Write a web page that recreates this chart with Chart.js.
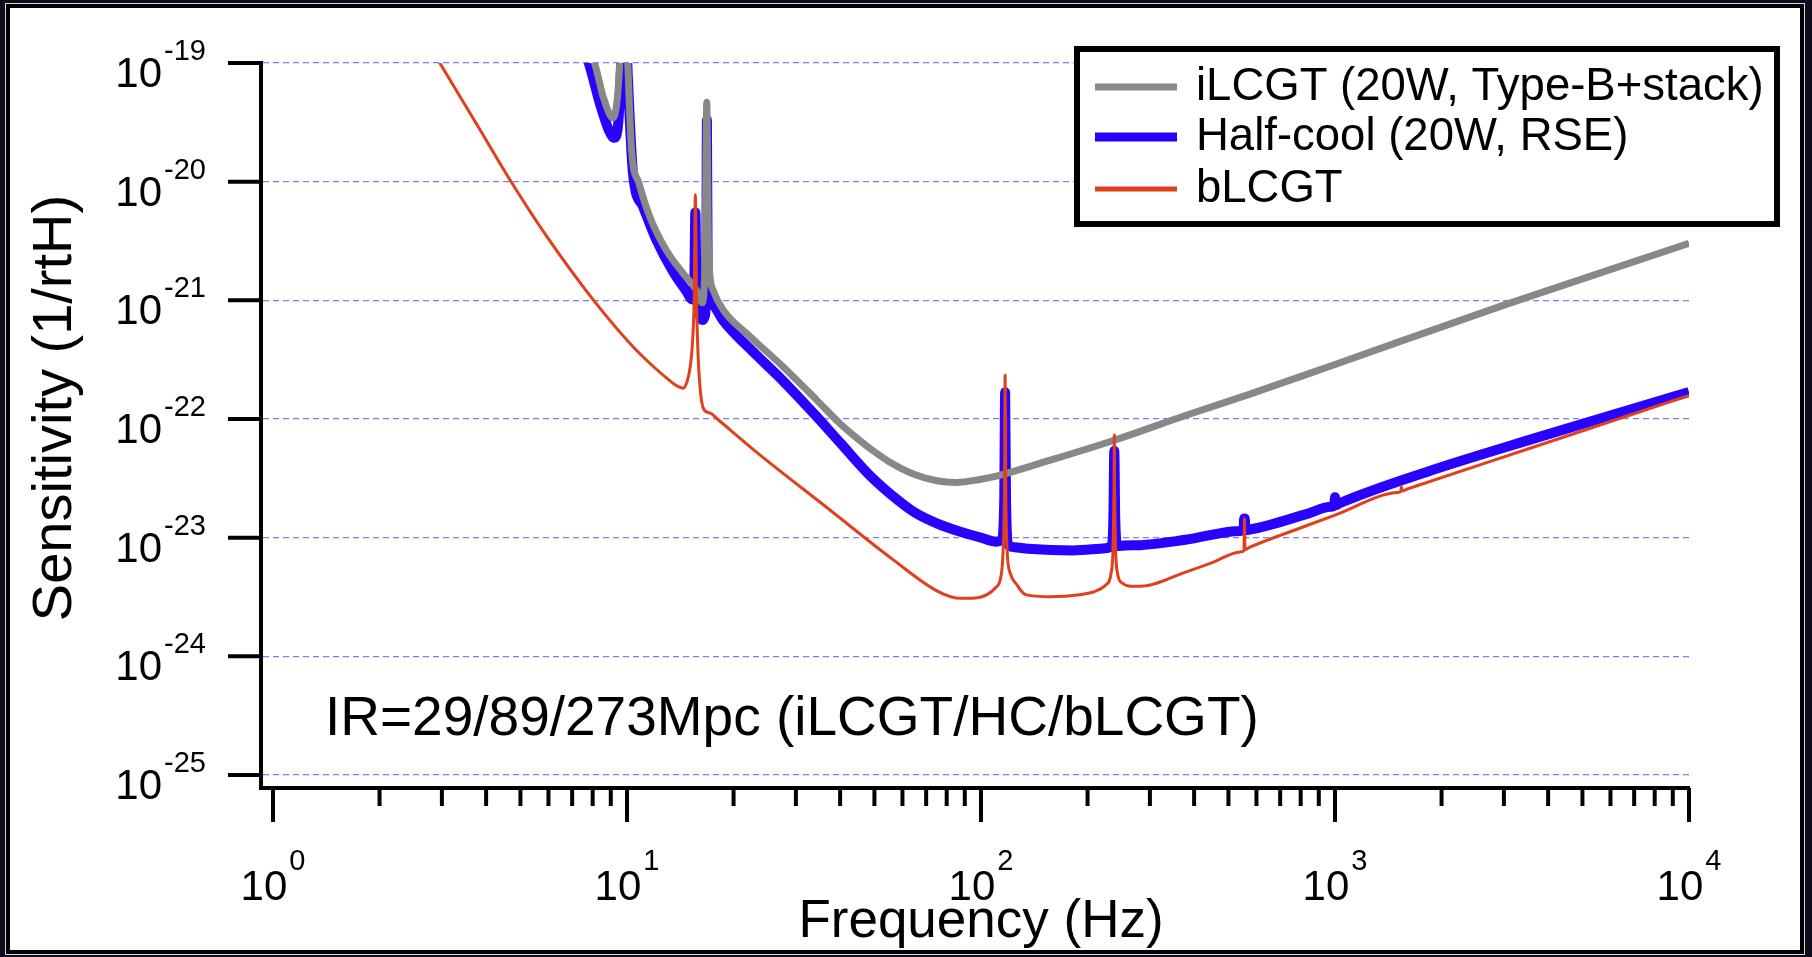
<!DOCTYPE html>
<html lang="en">
<head>
<meta charset="UTF-8">
<title>LCGT sensitivity</title>
<script src="https://cdn.jsdelivr.net/npm/chart.js"></script>
<style>
    html, body {
        margin: 0;
        padding: 0;
        background: #0d0c1c;
    }
    #frame {
        position: absolute;
        left: 6px;
        top: 4px;
        width: 1798px;
        height: 950px;
        box-sizing: border-box;
        border: 4px solid #000;
        background: #fff;
        box-shadow: 0 0 0 1px #d6d6de;
    }
    #plot {
        position: absolute;
        left: 0;
        top: 0;
    }
</style>
</head>
<body>
<div id="frame"></div>
<canvas id="plot" width="1812" height="957"></canvas>
<script>
// iLCGT (20W, Type-B+stack)
const freqILCGT = [7.0, 8.1, 8.6, 9.13, 9.35, 9.5, 9.82, 10.05, 10.3, 10.8, 11.6, 12.9, 14.4, 15.7, 16.3, 16.6, 16.8, 17.0, 17.5,
    18.7, 22.3, 27.6, 34.3, 40, 45, 48.7, 55, 65.2, 75, 85, 100, 110.6, 157, 244, 378, 575, 1000, 3000, 10000];
const sensILCGT = [3.16e-19, 1.0e-19, 5.0e-20, 3.44e-20, 4.47e-20, 7.94e-20, 5.0e-19, 1.0e-19, 1.85e-20, 9.8e-21, 5.07e-21, 2.66e-21, 1.69e-21, 1.22e-21, 9.55e-22, 2.0e-21, 4.68e-20, 2.51e-21, 1.22e-21,
    8.3e-22, 4.94e-22, 2.76e-22, 1.45e-22, 9.12e-23, 6.76e-23, 5.62e-23, 4.37e-23, 3.39e-23, 3.02e-23, 2.92e-23, 3.11e-23, 3.30e-23, 4.50e-23, 6.79e-23, 1.07e-22, 1.62e-22, 2.88e-22, 9.12e-22, 3.02e-21];

// Half-cool (20W, RSE)
const freqHalfCool = [6.5, 7.8, 8.4, 8.9, 9.2, 9.45, 9.6, 9.82, 10.05, 10.4, 11.1, 12.1, 13.5, 14.7, 15.3, 15.5, 15.6, 15.7, 16.0, 16.4,
    16.6, 16.75, 16.82, 16.9, 17.1, 17.5, 18.7, 22.3, 27.6, 34.3, 40, 48.7, 58, 65.2, 75, 87.5, 100, 110.6, 114.5, 116.3,
    117, 117.7, 119.5, 124, 135.8, 182, 225, 234, 236.5, 238, 239.5, 243, 255, 282, 378, 540, 552, 553.5, 556.5, 558,
    575, 830, 970, 995, 1000, 1005, 1030, 1841, 3698, 10000];
const sensHalfCool = [3.98e-19, 1.0e-19, 4.47e-20, 2.69e-20, 2.34e-20, 3.16e-20, 7.94e-20, 5.0e-19, 7.94e-20, 1.17e-20, 6.17e-21, 3.24e-21, 1.74e-21, 1.20e-21, 1.02e-21, 1.58e-21, 5.5e-21, 1.58e-21, 7.94e-22, 6.84e-22,
    7.41e-22, 1.58e-21, 3.31e-20, 1.58e-21, 1.0e-21, 9.33e-22, 6.76e-22, 3.89e-22, 2.09e-22, 1.05e-22, 6.31e-23, 3.31e-23, 2.09e-23, 1.62e-23, 1.32e-23, 1.12e-23, 1.0e-23, 9.25e-24, 9.55e-24, 2.0e-23,
    1.68e-22, 2.0e-23, 8.71e-24, 8.32e-24, 8.07e-24, 7.80e-24, 8.13e-24, 8.71e-24, 1.41e-23, 5.37e-23, 1.41e-23, 8.51e-24, 8.61e-24, 8.65e-24, 9.59e-24, 1.14e-23, 1.15e-23, 1.45e-23, 1.45e-23, 1.16e-23,
    1.17e-23, 1.58e-23, 1.82e-23, 1.86e-23, 2.19e-23, 1.88e-23, 1.95e-23, 3.63e-23, 6.93e-23, 1.69e-22];

// bLCGT
const freqBLCGT = [2.5, 2.96, 3.8, 4.64, 5.96, 8.03, 10.4, 12, 13.0, 13.8, 14.4, 14.8, 15.1, 15.35, 15.5, 15.6, 15.7, 15.85, 16.1, 16.5,
    17.2, 18, 23.4, 36.3, 56.3, 75.5, 87.5, 95, 104, 110, 113.8, 115.5, 116.5, 117, 117.5, 118.5, 121, 126, 133.7, 157,
    190, 210, 225, 233, 236.5, 237.5, 238, 238.5, 239.5, 243, 250, 265, 282, 378, 450, 540, 553, 555, 557, 575,
    830, 1000, 1500, 1535, 1540, 1545, 1600, 3698, 10000];
const sensBLCGT = [2.34e-19, 1.0e-19, 2.90e-20, 1.07e-20, 3.39e-21, 1.01e-21, 4.07e-22, 2.69e-22, 2.19e-22, 1.91e-22, 1.82e-22, 2.09e-22, 2.82e-22, 5.01e-22, 1.26e-21, 7.76e-21, 1.26e-21, 3.98e-22, 1.78e-22, 1.20e-22,
    1.12e-22, 1.0e-22, 5.16e-23, 1.84e-23, 6.56e-24, 3.53e-24, 3.08e-24, 3.09e-24, 3.31e-24, 3.80e-24, 4.68e-24, 7.94e-24, 2.51e-23, 2.34e-22, 2.51e-23, 7.94e-24, 5.01e-24, 4.05e-24, 3.31e-24, 3.18e-24,
    3.31e-24, 3.53e-24, 3.98e-24, 5.01e-24, 1.0e-23, 2.51e-23, 7.33e-23, 2.51e-23, 1.0e-23, 5.01e-24, 4.17e-24, 3.89e-24, 3.89e-24, 5.13e-24, 6.17e-24, 7.59e-24, 7.76e-24, 1.45e-23, 7.94e-24, 8.32e-24,
    1.26e-23, 1.55e-23, 2.40e-23, 2.45e-23, 2.69e-23, 2.48e-23, 2.57e-23, 5.89e-23, 1.58e-22];

// axes
const xDecades = [1, 10, 100, 1000, 10000];
const xDecadeExps = ['0', '1', '2', '3', '4'];
const yDecades = [1e-19, 1e-20, 1e-21, 1e-22, 1e-23, 1e-24, 1e-25];
const yDecadeExps = ['-19', '-20', '-21', '-22', '-23', '-24', '-25'];
const xMin = 0.925, xMax = 10000;
const yMin = 7.77e-26, yMax = 1e-19;

const annotation = 'IR=29/89/273Mpc (iLCGT/HC/bLCGT)';
const xTitle = 'Frequency (Hz)';
const yTitle = 'Sensitivity (1/rtH)';

const FONT = '"Liberation Sans", Arial, Helvetica, sans-serif';

function toPoints(fs, vs) {
    return fs.map((f, i) => ({x: f, y: vs[i]}));
}

// "10" with a raised exponent
function drawPower(ctx, exp, x, baseY, expY, align) {
    ctx.font = '42px ' + FONT;
    const wb = ctx.measureText('10').width;
    ctx.font = '29px ' + FONT;
    const we = ctx.measureText(exp).width;
    const total = wb + 2 + we;
    const x0 = align === 'right' ? x - total : x - total / 2;
    ctx.textAlign = 'left';
    ctx.textBaseline = 'alphabetic';
    ctx.font = '42px ' + FONT;
    ctx.fillText('10', x0, baseY);
    ctx.font = '29px ' + FONT;
    ctx.fillText(exp, x0 + wb + 2, expY);
}

const igorAxes = {
    id: 'igorAxes',
    afterDraw(chart) {
        const ctx = chart.ctx;
        const area = chart.chartArea;
        const xs = chart.scales.x;
        const ys = chart.scales.y;
        ctx.save();
        ctx.fillStyle = '#000';
        ctx.strokeStyle = '#000';

        // y ticks and labels
        ctx.lineWidth = 4;
        yDecades.forEach((v, i) => {
            const py = ys.getPixelForValue(v);
            ctx.beginPath();
            ctx.moveTo(area.left - 33, py);
            ctx.lineTo(area.left, py);
            ctx.stroke();
            drawPower(ctx, yDecadeExps[i], area.left - 55, py + 24, py - 3, 'right');
        });

        // x ticks: majors at decades, minors at 2..9
        xDecades.forEach((d, i) => {
            const px = xs.getPixelForValue(d);
            ctx.lineWidth = 4;
            ctx.beginPath();
            ctx.moveTo(px, area.bottom);
            ctx.lineTo(px, area.bottom + 34);
            ctx.stroke();
            drawPower(ctx, xDecadeExps[i], px, area.bottom + 112, area.bottom + 82, 'center');
            if (d < xMax) {
                for (let m = 2; m <= 9; m++) {
                    const mx = xs.getPixelForValue(d * m);
                    ctx.beginPath();
                    ctx.moveTo(mx, area.bottom);
                    ctx.lineTo(mx, area.bottom + 18);
                    ctx.stroke();
                }
            }
        });

        // axis titles
        ctx.font = '53px ' + FONT;
        ctx.textAlign = 'center';
        ctx.textBaseline = 'alphabetic';
        ctx.fillText(xTitle, xs.getPixelForValue(100), 937);

        ctx.save();
        ctx.translate(71, 408);
        ctx.rotate(-Math.PI / 2);
        ctx.font = '56px ' + FONT;
        ctx.fillText(yTitle, 0, 0);
        ctx.restore();

        // range annotation
        ctx.font = '55px ' + FONT;
        ctx.textAlign = 'left';
        ctx.fillText(annotation, 325, 735);

        // legend box
        const lx = 1074, ly = 46, lw = 706, lh = 181;
        ctx.fillStyle = '#fff';
        ctx.fillRect(lx, ly, lw, lh);
        ctx.lineWidth = 6;
        ctx.strokeStyle = '#000';
        ctx.strokeRect(lx + 3, ly + 3, lw - 6, lh - 6);
        const rowY = [87, 137, 189];
        const sampleW = [7, 9, 5];
        chart.data.datasets.forEach((ds, i) => {
            ctx.strokeStyle = ds.borderColor;
            ctx.lineWidth = sampleW[i];
            ctx.beginPath();
            ctx.moveTo(1095, rowY[i]);
            ctx.lineTo(1177, rowY[i]);
            ctx.stroke();
            ctx.fillStyle = '#000';
            ctx.font = '45.5px ' + FONT;
            ctx.fillText(ds.label, 1196, rowY[i] + 13);
        });
        ctx.restore();
    }
};

const ctx = document.getElementById('plot').getContext('2d');
new Chart(ctx, {
    type: 'line',
    data: {
        datasets: [
            {
                label: 'iLCGT (20W, Type-B+stack)',
                data: toPoints(freqILCGT, sensILCGT),
                borderColor: '#888888',
                borderWidth: 7,
                order: 1
            },
            {
                label: 'Half-cool (20W, RSE)',
                data: toPoints(freqHalfCool, sensHalfCool),
                borderColor: '#2a00ff',
                borderWidth: 10,
                order: 2
            },
            {
                label: 'bLCGT',
                data: toPoints(freqBLCGT, sensBLCGT),
                borderColor: '#e0401c',
                borderWidth: 3,
                order: 0
            }
        ]
    },
    options: {
        responsive: false,
        devicePixelRatio: 1,
        animation: false,
        events: [],
        layout: {
            padding: {left: 261, top: 63, right: 123, bottom: 169}
        },
        elements: {
            point: {radius: 0},
            line: {cubicInterpolationMode: 'monotone', borderJoinStyle: 'round', borderCapStyle: 'butt'}
        },
        datasets: {
            line: {clip: 0}
        },
        plugins: {
            legend: {display: false},
            tooltip: {enabled: false}
        },
        scales: {
            x: {
                type: 'logarithmic',
                min: xMin,
                max: xMax,
                bounds: 'data',
                ticks: {display: false},
                grid: {display: false, drawTicks: false},
                border: {display: true, color: '#000', width: 4},
                afterFit(scale) { scale.height = 0; }
            },
            y: {
                type: 'logarithmic',
                min: yMin,
                max: yMax,
                bounds: 'data',
                ticks: {display: false},
                grid: {display: true, drawTicks: false, color: '#7b7bff', lineWidth: 1.3},
                border: {display: true, color: '#000', width: 4, dash: [6, 4]},
                afterBuildTicks(scale) {
                    scale.ticks = yDecades.map(v => ({value: v}));
                },
                afterFit(scale) { scale.width = 0; }
            }
        }
    },
    plugins: [igorAxes]
});
</script>
</body>
</html>
